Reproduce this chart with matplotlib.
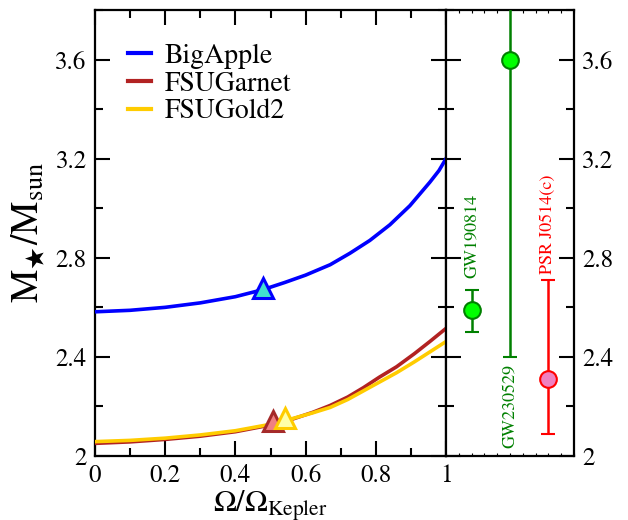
import numpy as np
import matplotlib
matplotlib.use('Agg')
import matplotlib.pyplot as plt
from matplotlib.ticker import MultipleLocator

plt.rcParams['font.family'] = ['STIXGeneral', 'Liberation Serif', 'DejaVu Serif']
plt.rcParams['mathtext.fontset'] = 'stix'

# Rotating sequences, M vs Omega/Omega_Kepler
omega_big = [0.0, 0.1, 0.2, 0.3, 0.4, 0.48, 0.54, 0.6, 0.67, 0.726, 0.783,
             0.84, 0.897, 0.954, 0.98, 1.0]
mass_big = [2.582, 2.588, 2.600, 2.618, 2.643, 2.672, 2.700, 2.730, 2.772,
            2.818, 2.870, 2.933, 3.010, 3.105, 3.152, 3.200]

omega_fsu = [0.0, 0.1, 0.2, 0.3, 0.4, 0.5, 0.565, 0.62, 0.67, 0.72, 0.765,
             0.81, 0.859, 0.91, 0.954, 1.0]
mass_garnet = [2.051, 2.057, 2.067, 2.080, 2.098, 2.125, 2.150, 2.176, 2.204,
               2.238, 2.276, 2.318, 2.360, 2.413, 2.462, 2.515]
mass_gold2 = [2.058, 2.063, 2.072, 2.085, 2.102, 2.128, 2.152, 2.174, 2.196,
              2.228, 2.263, 2.298, 2.336, 2.380, 2.420, 2.462]

# Triangles marking a point on each sequence
tri_omega = [0.48, 0.508, 0.541]
tri_mass = [2.68, 2.14, 2.155]

# Observed objects (right panel)
obs_names = ['GW190814', 'GW230529', 'PSR J0514(c)']
obs_x = [0.2, 0.5, 0.8]
obs_mass = [2.59, 3.6, 2.31]
obs_low = [2.50, 2.40, 2.09]
obs_high = [2.67, 4.40, 2.71]

ytick_vals = [2.0, 2.4, 2.8, 3.2, 3.6]
ytick_labels = ['2', '2.4', '2.8', '3.2', '3.6']
xtick_vals = [0.0, 0.2, 0.4, 0.6, 0.8, 1.0]
xtick_labels = ['0', '0.2', '0.4', '0.6', '0.8', '1']

fig = plt.figure(figsize=(6.28, 5.2), dpi=100)
ax = fig.add_axes([95 / 628, 1 - 456 / 520, 351 / 628, 446 / 520])
ax_r = fig.add_axes([446 / 628, 1 - 456 / 520, 128 / 628, 446 / 520])

# Curves
ax.plot(omega_big, mass_big, color='#0000ff', lw=2.6, label='BigApple',
        zorder=3, solid_joinstyle='round')
ax.plot(omega_fsu, mass_garnet, color='#b22222', lw=2.6, label='FSUGarnet',
        zorder=3, solid_joinstyle='round')
ax.plot(omega_fsu, mass_gold2, color='#ffcc00', lw=2.6, label='FSUGold2',
        zorder=3, solid_joinstyle='round')

tri_face = ['#40e0d0', '#f08080', '#ffffa8']
tri_edge = ['#0000ff', '#a52a2a', '#ffcc00']
for i in range(3):
    ax.plot(tri_omega[i], tri_mass[i], marker='^', ms=14, mew=2.2,
            mfc=tri_face[i], mec=tri_edge[i], ls='none', zorder=4 + i)

ax.set_xlim(0, 1)
ax.set_ylim(2, 3.8)
ax.set_xticks(xtick_vals)
ax.set_xticklabels(xtick_labels)
ax.set_yticks(ytick_vals)
ax.set_yticklabels(ytick_labels)
ax.xaxis.set_minor_locator(MultipleLocator(0.1))
ax.yaxis.set_minor_locator(MultipleLocator(0.2))
ax.tick_params(which='both', direction='in', top=True, right=True,
               labelsize=18, width=1.5, pad=6)
ax.tick_params(which='major', length=11)
ax.tick_params(which='minor', length=6)
for sp in ax.spines.values():
    sp.set_linewidth(1.6)

ax.set_xlabel(r'$\Omega/\Omega_{\mathrm{Kepler}}$', fontsize=22, labelpad=0)
ax.set_ylabel(r'$\mathrm{M}_{\bigstar}/\mathrm{M}_{\mathrm{sun}}$', fontsize=27, labelpad=6)

ax.legend(loc='upper left', bbox_to_anchor=(0.095, 0.925), frameon=False,
          fontsize=20, handlelength=0.8, handletextpad=0.5,
          labelspacing=0.08, borderaxespad=0, borderpad=0)
for line in ax.get_legend().get_lines():
    line.set_linewidth(3)

# Observations
obs_face = ['#00ff00', '#00ff00', '#f080c0']
obs_col = ['#008000', '#008000', '#ff0000']
for i in range(3):
    err = [[obs_mass[i] - obs_low[i]], [obs_high[i] - obs_mass[i]]]
    ax_r.errorbar([obs_x[i]], [obs_mass[i]], yerr=err, fmt='o', ms=12,
                  mfc=obs_face[i], mec=obs_col[i], mew=1.5, ecolor=obs_col[i],
                  elinewidth=1.8, capsize=5, capthick=1.8, zorder=3)

ax_r.text(obs_x[0], 2.72, obs_names[0], rotation=90, ha='center', va='bottom',
          color=obs_col[0], fontsize=13)
ax_r.text(obs_x[1], 2.37, obs_names[1], rotation=90, ha='center', va='top',
          color=obs_col[1], fontsize=13)
ax_r.text(obs_x[2], 2.735, obs_names[2], rotation=90, ha='center', va='bottom',
          color=obs_col[2], fontsize=13)

ax_r.set_xlim(0, 1)
ax_r.set_ylim(2, 3.8)
ax_r.set_xticks(np.arange(0, 1.01, 0.1))
ax_r.set_xticklabels([])
ax_r.set_yticks(ytick_vals)
ax_r.set_yticklabels(ytick_labels)
ax_r.yaxis.set_minor_locator(MultipleLocator(0.2))
ax_r.tick_params(axis='x', direction='in', top=True, length=2, width=0.8)
ax_r.tick_params(axis='y', which='both', direction='in', left=True, right=True,
                 labelleft=False, labelright=True, labelsize=18, width=1.5, pad=6)
ax_r.tick_params(axis='y', which='major', length=11)
ax_r.tick_params(axis='y', which='minor', length=6)
for sp in ax_r.spines.values():
    sp.set_linewidth(1.6)

fig.savefig('out.png', dpi=100)
